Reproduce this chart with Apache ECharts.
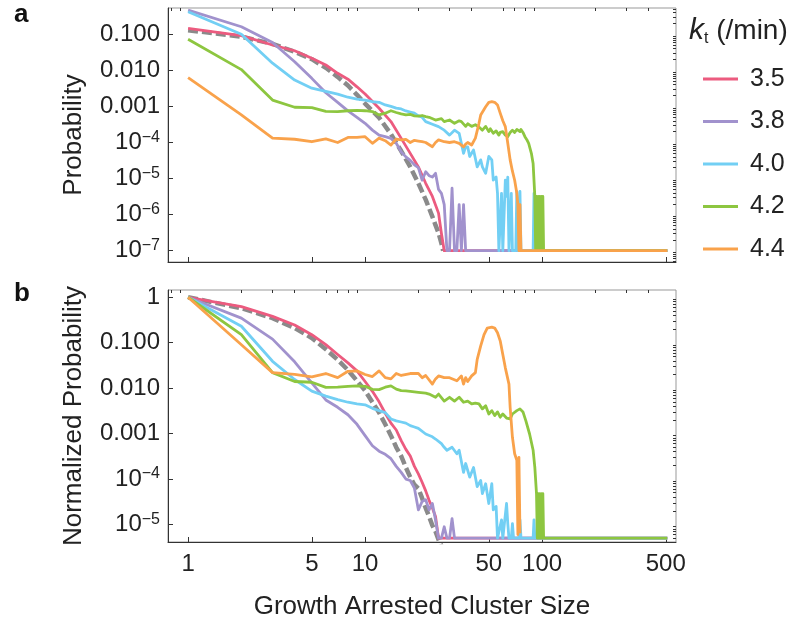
<!DOCTYPE html>
<html><head><meta charset="utf-8">
<script src="https://cdn.jsdelivr.net/npm/echarts@6/dist/echarts.min.js"></script>
<style>html,body{margin:0;padding:0;background:#fff}#c{width:798px;height:621px}</style>
</head><body><div id="c"></div>
<script>
// ---------- data ----------
const seriesNames = ['3.5', '3.8', '4.0', '4.2', '4.4'];
const seriesColors = ['#EC5B7F', '#A192CD', '#72CFF4', '#8DC640', '#F9A24B'];
const theoryColor = '#8a8a8a';

// x tick labels
const xMajorTicks = [1, 5, 10, 50, 100, 500];
const xMinorTicks = [0.8, 0.9, 2, 3, 4, 6, 7, 8, 9, 20, 30, 40, 60, 70, 80, 90, 200, 300, 400];
// y tick labels (panel a)
const yTicksA = [1e-7, 1e-6, 1e-5, 1e-4, 0.001, 0.01, 0.1];
const yLabelsA = ['10^−7', '10^−6', '10^−5', '10^−4', '0.001', '0.010', '0.100'];
// y tick labels (panel b)
const yTicksB = [1e-5, 1e-4, 0.001, 0.01, 0.1, 1];
const yLabelsB = ['10^−5', '10^−4', '0.001', '0.010', '0.100', '1'];

// ---- panel a : Probability ----
const theoryA = [[1,0.13],[2,0.086],[3,0.054],[4,0.033],[5,0.0204],[6,0.0118],[7,0.0066],[8,0.0038],[9,0.0021],[10,0.0012],[12,4.9e-4],[14,1.7e-4],[16,5.8e-5],[18,2.1e-5],[20,7.4e-6],[22,2.6e-6],[24,8.8e-7],[25,5.1e-7],[26,3.1e-7],[27,1.6e-7],[27.6,1e-7]];
const kt35A = [[1,0.147],[2,0.0915],[3,0.0505],[4,0.035],[5,0.0216],[6,0.0141],[7,0.0083],[8,0.0057],[9,0.0035],[10,0.0022],[12,8.9e-4],[14,3.8e-4],[16,1.3e-4],[18,5.0e-5],[20,2.1e-5],[22,7.4e-6],[24,3.2e-6],[26,1.1e-6],[27,3.0e-7],[28,1e-7],[510,1e-7]];
const kt38A = [[1,0.47],[2,0.162],[3,0.059],[4,0.0174],[5,0.006],[6,0.0024],[7,0.0013],[8,7.5e-4],[9,5.0e-4],[10,3.4e-4],[11,2.2e-4],[12,1.6e-4],[13,1.45e-4],[14,1.3e-4],[15,9.5e-5],[16,5.5e-5],[17,4.0e-5],[18,3.2e-5],[19,2.4e-5],[20,2.0e-5],[21,9e-6],[22,1.55e-5],[23,1.2e-5],[24,1.1e-5],[25,1.4e-5],[26,5e-6],[27,3.9e-6],[28,1.9e-6],[29,1e-7],[30,1e-7],[31,5.4e-6],[32,1e-7],[33,1e-7],[34,1.9e-6],[35,1e-7],[36,1.9e-6],[37,1e-7],[510,1e-7]];
const kt40A = [[1,0.42],[2,0.1],[3,0.0158],[4,0.0054],[5,0.0032],[6,0.0026],[7,0.0022],[8,0.0018],[9,0.0016],[10,0.0015],[11,0.00135],[12,0.0013],[13,0.0011],[14,0.001],[15,9.0e-4],[16,8.5e-4],[17,7.5e-4],[18,7.0e-4],[19,6.5e-4],[20,5.5e-4],[21,5.0e-4],[22,3.8e-4],[24,3.2e-4],[26,2.75e-4],[28,2.2e-4],[30,1.6e-4],[32,2.2e-4],[34,1.8e-4],[36,5.0e-5],[37,7.6e-5],[38,7.6e-5],[39,4.1e-5],[41,6.2e-5],[43,2.1e-5],[45,3.3e-5],[46,2.1e-5],[48,1.4e-5],[50,4.1e-5],[52,3.3e-5],[53,9.1e-6],[55,1.1e-5],[56,3.9e-6],[57,1e-7],[58,1e-7],[59,3.9e-6],[60,1e-7],[61,1e-7],[62,9.1e-6],[63,3.2e-6],[64,1.1e-5],[65,1e-7],[66,1e-7],[67,3.9e-6],[68,1e-7],[71,1e-7],[72,4.4e-6],[73,1e-7],[74,1e-7],[75,4.4e-6],[76,1e-7],[89,1e-7],[90,3.9e-6],[91,1e-7],[510,1e-7]];
const kt42A = [[1,0.073],[2,0.0105],[3,0.0015],[4,9.5e-4],[5,9.3e-4],[6,7.3e-4],[7,7.2e-4],[8,7.6e-4],[9,7.8e-4],[10,7.6e-4],[11,7.2e-4],[12,5.8e-4],[13,6.5e-4],[14,7.6e-4],[15,6.8e-4],[16,6.2e-4],[17,5.8e-4],[18,6.0e-4],[19,5.5e-4],[20,5.4e-4],[21,5.6e-4],[22,5.2e-4],[23,5.0e-4],[25,4.2e-4],[27,4.6e-4],[28,3.8e-4],[30,4.2e-4],[32,3.4e-4],[34,4.0e-4],[35,3.8e-4],[37,2.8e-4],[38,3.3e-4],[40,2.8e-4],[42,3.1e-4],[44,2.7e-4],[46,2.2e-4],[48,2.8e-4],[50,2.0e-4],[51,2.4e-4],[53,1.8e-4],[55,2.1e-4],[57,1.6e-4],[58,1.9e-4],[60,2.0e-4],[62,1.6e-4],[64,1.45e-4],[66,1.9e-4],[68,2.2e-4],[70,1.9e-4],[72,2.3e-4],[73,2.45e-4],[75,2.0e-4],[76,2.3e-4],[78,1.9e-4],[80,1.45e-4],[82,1.2e-4],[84,9.5e-5],[87,5.0e-5],[89,2.6e-5],[91,3.2e-6],[92,1e-7],[93,3.2e-6],[94,1e-7],[95,3.2e-6],[96,1e-7],[97,3.2e-6],[98,1e-7],[99,3.2e-6],[100,1e-7],[101,3.2e-6],[102,1e-7],[510,1e-7]];
const kt44A = [[1,0.0063],[2,5.8e-4],[3,1.32e-4],[4,1.23e-4],[5,1.05e-4],[6,1.26e-4],[7,1.0e-4],[8,1.38e-4],[9,1.38e-4],[10,1.45e-4],[11,9.5e-5],[12,1.32e-4],[13,1.12e-4],[14,8.5e-5],[15,1.25e-4],[16,1.18e-4],[17,1.22e-4],[18,1.0e-4],[19,1.15e-4],[20,1.1e-4],[21,1.05e-4],[22,1.0e-4],[24,7.6e-5],[25,1.0e-4],[26,1.18e-4],[28,1.05e-4],[30,1.0e-4],[32,1.05e-4],[34,9.5e-5],[36,7.6e-5],[37,9e-5],[38,1.0e-4],[40,8.5e-5],[42,1.32e-4],[44,3.4e-4],[45,5.8e-4],[48,9.8e-4],[50,1.3e-3],[52,1.35e-3],[54,1.3e-3],[56,1.1e-3],[58,6.5e-4],[60,4.0e-4],[62,2.75e-4],[64,9.5e-5],[66,3.3e-5],[68,1.6e-5],[70,9e-6],[72,3.9e-6],[73,1.9e-6],[74,1e-7],[75,1.9e-6],[76,1e-7],[510,1e-7]];

// ---- panel b : Normalized Probability ----
const theoryB = [[1,1],[2,0.575],[3,0.347],[4,0.21],[5,0.127],[6,0.072],[7,0.042],[8,0.025],[9,0.0145],[10,0.0088],[11,0.0049],[12,0.0029],[13,0.0016],[14,9e-4],[15,5e-4],[16,3.2e-4],[17,1.8e-4],[18,1.1e-4],[19,7.5e-5],[20,6.2e-5],[21,3.8e-5],[22,2.3e-5],[23,1.5e-5],[24,9.5e-6],[25,7e-6],[26,4.6e-6],[27,3.4e-6]];
const kt35B = [[1,1],[2,0.62],[3,0.38],[4,0.246],[5,0.15],[6,0.091],[7,0.055],[8,0.036],[9,0.024],[10,0.014],[11,0.0085],[12,0.005],[13,0.0028],[14,0.0017],[15,0.0012],[16,7e-4],[17,4.5e-4],[18,3.2e-4],[19,1.9e-4],[20,1.3e-4],[21,8.5e-5],[22,5.5e-5],[23,3.4e-5],[24,2.3e-5],[25,1.5e-5],[26,5e-6],[510,5e-6]];
const kt38B = [[1,1],[2,0.347],[3,0.12],[4,0.038],[5,0.013],[6,0.0055],[7,0.0038],[8,0.0026],[9,0.0016],[10,9e-4],[11,5.4e-4],[12,4.1e-4],[13,3.5e-4],[14,2.8e-4],[15,1.9e-4],[16,1.4e-4],[17,1.0e-4],[18,9.3e-5],[19,6.3e-5],[20,2.1e-5],[21,3.2e-5],[22,3.5e-5],[23,2.1e-5],[24,2.9e-5],[25,1.26e-5],[26,5e-6],[27,5e-6],[28,8.9e-6],[29,5e-6],[30,5e-6],[31,1.35e-5],[32,5e-6],[510,5e-6]];
const kt40B = [[1,1],[2,0.23],[3,0.039],[4,0.0155],[5,0.0086],[6,0.0067],[7,0.0056],[8,0.0049],[9,0.0045],[10,0.0043],[11,0.0036],[12,0.0032],[13,0.0029],[14,0.0021],[15,0.0019],[16,0.0018],[17,0.0017],[18,0.0015],[19,0.0014],[20,0.0013],[22,9.8e-4],[24,8.5e-4],[25,7.6e-4],[27,6.0e-4],[28,5.0e-4],[29,4.3e-4],[31,5.0e-4],[33,3.6e-4],[34,4.3e-4],[36,1.4e-4],[37,2.2e-4],[39,1.1e-4],[41,1.8e-4],[43,6.8e-5],[45,9.3e-5],[46,4.8e-5],[48,7.9e-5],[50,2.9e-5],[52,7.9e-5],[53,2.1e-5],[55,2.5e-5],[56,5e-6],[57,5e-6],[59,1.26e-5],[60,5e-6],[61,5e-6],[63,2.9e-5],[64,1.05e-5],[65,5e-6],[67,5e-6],[68,1.05e-5],[69,5e-6],[74,5e-6],[75,1.26e-5],[76,5e-6],[89,5e-6],[90,1.26e-5],[91,5e-6],[510,5e-6]];
const kt42B = [[1,1],[2,0.15],[3,0.022],[4,0.014],[5,0.0135],[6,0.0104],[7,0.0105],[8,0.011],[9,0.0112],[10,0.011],[11,0.0094],[12,0.0093],[13,0.0105],[14,0.0112],[15,0.0095],[16,0.0088],[17,0.0087],[18,0.0085],[20,0.0081],[22,0.0078],[23,0.0074],[25,0.0063],[26,0.0074],[28,0.0052],[30,0.0063],[32,0.0052],[34,0.0063],[36,0.0049],[38,0.0052],[40,0.0045],[42,0.0047],[44,0.0045],[46,0.0035],[48,0.0041],[49,0.004],[50,0.0027],[52,0.0032],[54,0.0025],[56,0.003],[58,0.0023],[60,0.0027],[63,0.0022],[66,0.0021],[68,0.0027],[72,0.0032],[75,0.0035],[78,0.003],[81,0.0019],[85,9.8e-4],[89,4.3e-4],[91,1.8e-4],[93,4.8e-5],[94,5e-6],[95,4.8e-5],[96,5e-6],[97,4.8e-5],[98,5e-6],[99,4.8e-5],[100,5e-6],[101,4.8e-5],[102,5e-6],[510,5e-6]];
const kt44B = [[1,1],[2,0.09],[3,0.022],[4,0.02],[5,0.0178],[6,0.021],[7,0.017],[8,0.0235],[9,0.024],[10,0.02],[11,0.018],[12,0.024],[13,0.017],[14,0.016],[15,0.021],[16,0.019],[18,0.021],[20,0.021],[21,0.017],[22,0.019],[24,0.0123],[25,0.016],[26,0.0186],[28,0.017],[30,0.017],[33,0.0145],[35,0.0186],[36,0.0123],[37,0.017],[38,0.014],[40,0.0186],[42,0.022],[43,0.043],[45,0.085],[47,0.15],[49,0.21],[52,0.22],[54,0.21],[56,0.166],[58,0.11],[60,0.055],[62,0.028],[65,0.0123],[66,0.0038],[68,8.3e-4],[70,3.6e-4],[72,2.6e-4],[73,6e-6],[74,3e-4],[75,6.4e-6]];

// ---------- chart ----------
const FONT = '"Liberation Sans", Arial, Helvetica, sans-serif';
const TXT = '#222';
const grids = [
  {left: 168, top: 8, width: 508, height: 254},
  {left: 168, top: 290, width: 508, height: 253}
];
const xRange = [0.77, 571];
const yRanges = [[4.86e-8, 0.536], [4.12e-6, 1.445]];

function minorDecades(lo, hi) {
  const out = [];
  for (let n = -9; n <= 1; n++) for (let k = 2; k <= 9; k++) {
    const v = k * Math.pow(10, n);
    if (v >= lo && v <= hi) out.push(v);
  }
  return out;
}
function labelFor(v, ticks, labels) {
  for (let i = 0; i < ticks.length; i++) {
    if (Math.abs(Math.log10(v) - Math.log10(ticks[i])) < 1e-6) {
      const t = labels[i];
      if (t.indexOf('^') >= 0) { const p = t.split('^'); return '{b|' + p[0] + '}{s|' + p[1] + '}'; }
      return t;
    }
  }
  return '';
}
const rich = {b: {fontSize: 24, lineHeight: 26, fontFamily: FONT, color: TXT}, s: {fontSize: 16, lineHeight: 16, verticalAlign: 'top', fontFamily: FONT, color: TXT}};

const xAxes = [], yAxes = [];
[0, 1].forEach(g => {
  xAxes.push({type: 'log', logBase: 10, gridIndex: g, min: xRange[0], max: xRange[1],
    axisLine: {show: true, onZero: false, lineStyle: {color: '#333', width: 1}},
    axisTick: {show: true, inside: true, length: 5, customValues: xMajorTicks, lineStyle: {color: '#333'}},
    axisLabel: {show: g === 1, customValues: xMajorTicks, formatter: v => String(v), fontSize: 24, color: TXT, fontFamily: FONT, margin: 10},
    splitLine: {show: false}, minorTick: {show: false}, minorSplitLine: {show: false},
    name: g === 1 ? 'Growth Arrested Cluster Size' : '', nameLocation: 'middle', nameGap: 52,
    nameTextStyle: {fontSize: 26, color: TXT, fontFamily: FONT}});
  xAxes.push({type: 'log', logBase: 10, gridIndex: g, min: xRange[0], max: xRange[1],
    axisLine: {show: false}, axisLabel: {show: false},
    axisTick: {show: true, inside: true, length: 3, customValues: xMinorTicks, lineStyle: {color: '#333'}},
    splitLine: {show: false}});
  const yt = g === 0 ? yTicksA : yTicksB, yl = g === 0 ? yLabelsA : yLabelsB;
  yAxes.push({type: 'log', logBase: 10, gridIndex: g, min: yRanges[g][0], max: yRanges[g][1],
    axisLine: {show: true, onZero: false, lineStyle: {color: '#333', width: 1}},
    axisTick: {show: true, inside: true, length: 5, customValues: yt, lineStyle: {color: '#333'}},
    axisLabel: {show: true, customValues: yt, formatter: v => labelFor(v, yt, yl), rich: rich, fontSize: 24, color: TXT, fontFamily: FONT, margin: 8},
    splitLine: {show: false},
    name: g === 0 ? 'Probability' : 'Normalized Probability', nameLocation: 'middle', nameGap: 81, nameRotate: 90,
    nameTextStyle: {fontSize: 26, color: TXT, fontFamily: FONT}});
  yAxes.push({type: 'log', logBase: 10, gridIndex: g, min: yRanges[g][0], max: yRanges[g][1],
    axisLine: {show: false}, axisLabel: {show: false},
    axisTick: {show: true, inside: true, length: 3, customValues: minorDecades(yRanges[g][0], yRanges[g][1]), lineStyle: {color: '#333'}},
    splitLine: {show: false}});
});

function line(name, data, color, g, z) {
  return {type: 'line', name: name, data: data, xAxisIndex: g * 2, yAxisIndex: g * 2,
    symbol: 'none', showSymbol: false, clip: true, z: z, silent: true,
    lineStyle: {color: color, width: 2.8, join: 'round'}, itemStyle: {color: color}};
}
const dataA = [kt35A, kt38A, kt40A, kt42A, kt44A];
const dataB = [kt35B, kt38B, kt40B, kt42B, kt44B];
const series = [];
[theoryA, theoryB].forEach((d, g) => series.push({type: 'line', name: 'theory', data: d, xAxisIndex: g * 2, yAxisIndex: g * 2,
  symbol: 'none', showSymbol: false, clip: true, z: 2, silent: true,
  lineStyle: {color: theoryColor, width: 4.5, type: [10, 4]}, itemStyle: {color: theoryColor}}));
seriesNames.forEach((n, i) => {
  series.push(line(n, dataA[i], seriesColors[i], 0, 3 + i));
  series.push(line(n, dataB[i], seriesColors[i], 1, 3 + i));
});

const chart = echarts.init(document.getElementById('c'), null, {renderer: 'canvas'});
chart.setOption({
  animation: false,
  backgroundColor: '#fff',
  grid: grids.map(g => Object.assign({show: true, borderColor: '#999', borderWidth: 1, containLabel: false}, g)),
  xAxis: xAxes,
  yAxis: yAxes,
  legend: {data: seriesNames, orient: 'vertical', left: 703, top: 66.5, itemWidth: 35, itemHeight: 3, itemGap: 17.5,
    icon: 'rect', selectedMode: false, padding: 0,
    textStyle: {fontSize: 25, lineHeight: 24, color: TXT, fontFamily: FONT, padding: [0, 0, 0, 7]}},
  graphic: [
    {type: 'text', left: 14, top: 2, style: {text: 'a', font: 'bold 26px ' + FONT, fill: '#111'}},
    {type: 'text', left: 14, top: 281, style: {text: 'b', font: 'bold 26px ' + FONT, fill: '#111'}},
    {type: 'text', left: 689, top: 16, style: {text: '{k|k}{t|t}{r| (/min)}', fill: TXT,
      rich: {k: {fontSize: 30, fontStyle: 'italic', fontFamily: FONT, fill: TXT, lineHeight: 32},
             t: {fontSize: 16, fontFamily: FONT, fill: TXT, verticalAlign: 'bottom', lineHeight: 16},
             r: {fontSize: 28, fontFamily: FONT, fill: TXT, lineHeight: 32}}}}
  ],
  series: series
});
</script></body></html>
